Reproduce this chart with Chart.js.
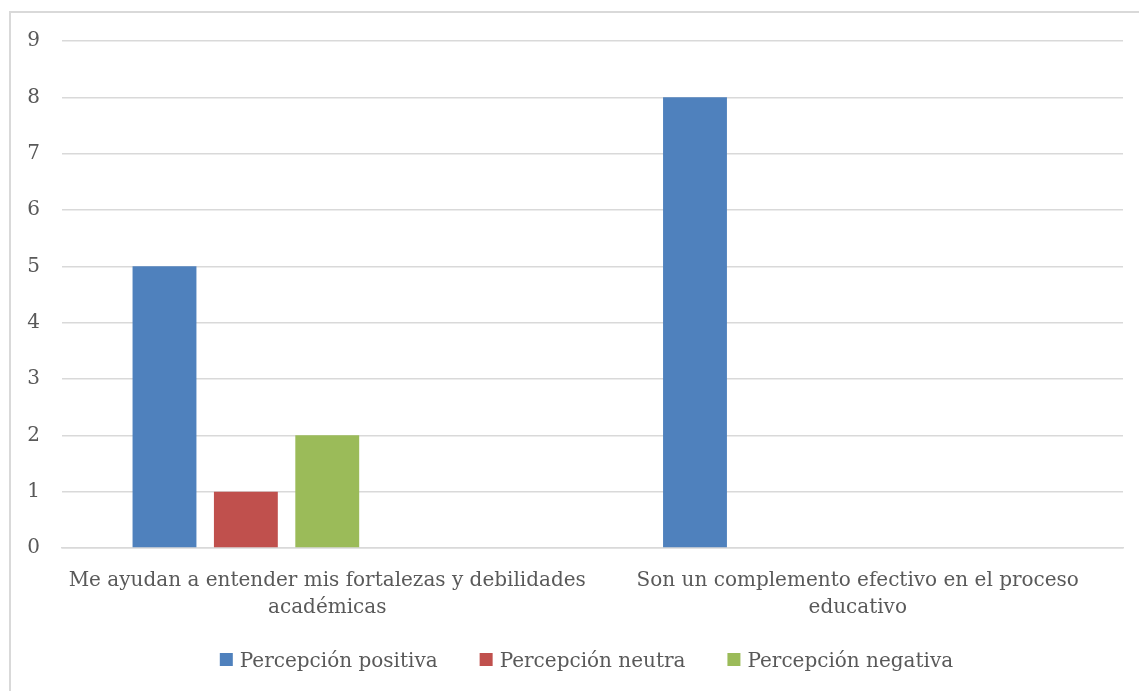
<!DOCTYPE html>
<html>
<head>
<meta charset="utf-8">
<script src="https://cdn.jsdelivr.net/npm/chart.js@4"></script>
<style>
  body { margin: 0; background: #fff; }
  #marco { position: absolute; left: 9px; top: 11px; width: 2000px; height: 2000px;
           border-left: 2px solid #d9d9d9; border-top: 2px solid #d9d9d9; }
  #grafico { position: absolute; left: 0; top: 0; }
</style>
</head>
<body>
<div id="marco"></div>
<canvas id="grafico" width="1139" height="691"></canvas>
<script>
var categorias = [
  ['Me ayudan a entender mis fortalezas y debilidades', 'académicas'],
  ['Son un complemento efectivo en el proceso', 'educativo']
];
var positiva = [5, 8];
var neutra = [1, 0];
var negativa = [2, 0];
var vacia1 = [null, null];
var vacia2 = [null, null];
var ticksY = ['0', '1', '2', '3', '4', '5', '6', '7', '8', '9'];

var fuente = { family: 'DejaVu Serif', size: 20 };
var gris = '#595959';

// leyenda al estilo Excel: cuadro pegado al texto, items separados
var leyenda = {
  id: 'leyendaExcel',
  afterDraw: (chart) => {
    let c = chart.ctx;
    let items = chart.data.datasets.filter(d => d.label !== '');
    c.save();
    c.font = fuente.size + 'px "' + fuente.family + '"';
    c.textBaseline = 'alphabetic';
    c.textAlign = 'left';
    let caja = 13, hueco = 7, sep = 42;
    let anchos = items.map(d => caja + hueco + c.measureText(d.label).width);
    let total = anchos.reduce((a, b) => a + b, 0) + sep * (items.length - 1);
    let centro = (chart.chartArea.left + chart.chartArea.right) / 2 - 6;
    let x = centro - total / 2;
    let y = chart.chartArea.bottom + 105;
    items.forEach((d, i) => {
      c.fillStyle = d.backgroundColor;
      c.fillRect(x, y, caja, caja);
      c.fillStyle = gris;
      c.fillText(d.label, x + caja + hueco, y + 14);
      x += anchos[i] + sep;
    });
    c.restore();
  }
};

var ctx = document.getElementById('grafico').getContext('2d');
var myChart = new Chart(ctx, {
  type: 'bar',
  data: {
    labels: categorias,
    datasets: [
      { label: 'Percepción positiva', data: positiva, backgroundColor: '#4f81bd' },
      { label: 'Percepción neutra', data: neutra, backgroundColor: '#c0504d' },
      { label: 'Percepción negativa', data: negativa, backgroundColor: '#9bbb59' },
      { label: '', data: vacia1, backgroundColor: '#8064a2' },
      { label: '', data: vacia2, backgroundColor: '#4bacc6' }
    ]
  },
  plugins: [leyenda],
  options: {
    responsive: false,
    animation: false,
    datasets: { bar: { categoryPercentage: 0.767, barPercentage: 0.785 } },
    layout: { padding: { left: 20, top: 41, right: 16, bottom: 0 } },
    plugins: {
      tooltip: { enabled: false },
      legend: { display: false }
    },
    scales: {
      x: {
        grid: { display: false },
        border: { display: true, color: '#d9d9d9', width: 1.5 },
        ticks: { font: Object.assign({ lineHeight: 1.35 }, fuente), color: gris, padding: 11, maxRotation: 0 },
        afterFit: (scale) => { scale.height = 143; }
      },
      y: {
        min: 0,
        max: 9,
        grid: { color: '#d9d9d9', lineWidth: 1.5, drawTicks: false },
        border: { display: false },
        ticks: {
          stepSize: 1,
          font: fuente,
          color: gris,
          padding: 22,
          callback: (value, i) => ticksY[i]
        },
        afterFit: (scale) => { scale.width = 42; }
      }
    }
  }
});
</script>
</body>
</html>
